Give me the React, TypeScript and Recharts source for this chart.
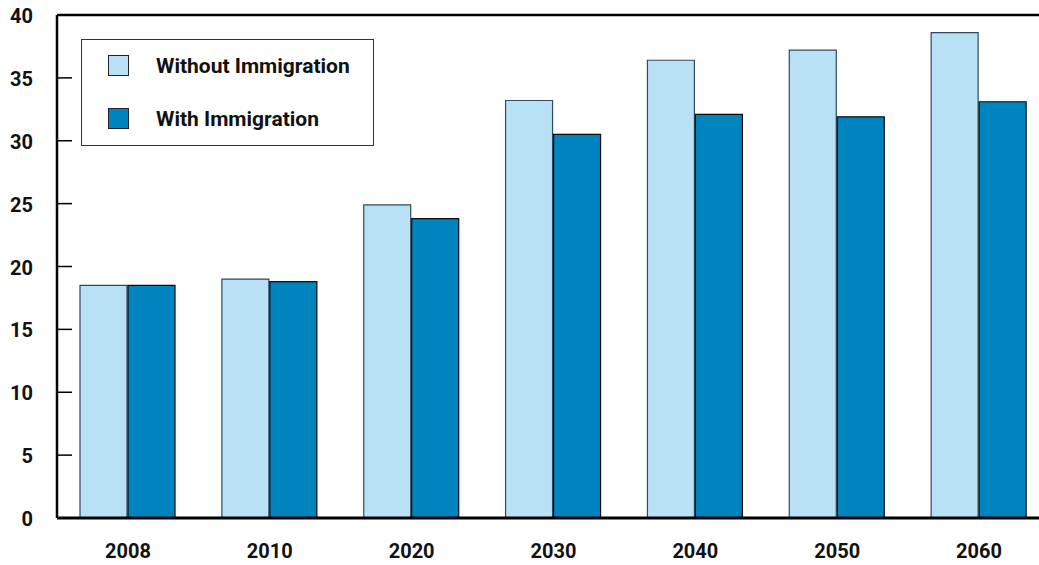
import React from "react";
import { BarChart, Bar, XAxis, YAxis, ReferenceLine } from "recharts";

const years = ["2008", "2010", "2020", "2030", "2040", "2050", "2060"];
const withoutImmigration = [18.5, 19.0, 24.9, 33.2, 36.4, 37.2, 38.6];
const withImmigration = [18.5, 18.8, 23.8, 30.5, 32.1, 31.9, 33.1];
const yTicks = [0, 5, 10, 15, 20, 25, 30, 35, 40];
const seriesNames = ["Without Immigration", "With Immigration"];

const LIGHT = "#b9e1f5";
const DARK = "#0084bf";
const FONT = "Roboto, 'Liberation Sans', sans-serif";

const data = years.map((y, i) => ({
  year: y,
  without: withoutImmigration[i],
  with: withImmigration[i],
}));

const YTick = (props: any) => {
  const { x, y, payload } = props;
  return (
    <g>
      {payload.value !== 0 && payload.value !== 40 && (
        <line x1={x} x2={x + 15} y1={y} y2={y} stroke="#000" strokeWidth={1.5} />
      )}
      <text
        x={x - 24}
        y={y + 1}
        textAnchor="end"
        dominantBaseline="central"
        fontFamily={FONT}
        fontWeight={700}
        fontSize={20}
        fill="#111"
      >
        {payload.value}
      </text>
    </g>
  );
};

const XTick = (props: any) => {
  const { x, y, payload } = props;
  return (
    <text
      x={x}
      y={y}
      textAnchor="middle"
      dominantBaseline="central"
      fontFamily={FONT}
      fontWeight={700}
      fontSize={20}
      fill="#111"
    >
      {payload.value}
    </text>
  );
};

const LegendBox = () => (
  <div
    style={{
      position: "absolute",
      left: 81,
      top: 39,
      width: 293,
      height: 107,
      border: "1px solid #333",
      background: "#fff",
      boxSizing: "border-box",
      fontFamily: FONT,
      fontWeight: 700,
      fontSize: 21,
      color: "#111",
    }}
  >
    {seriesNames.map((n, i) => (
      <div
        key={n}
        style={{
          position: "absolute",
          left: 26,
          top: 15 + i * 53,
          display: "flex",
          alignItems: "center",
          height: 21,
        }}
      >
        <div
          style={{
            width: 21,
            height: 21,
            background: i === 0 ? LIGHT : DARK,
            border: "1px solid #222",
            boxSizing: "border-box",
          }}
        />
        <span style={{ marginLeft: 27, whiteSpace: "nowrap" }}>{n}</span>
      </div>
    ))}
  </div>
);

export default function App() {
  return (
    <div
      style={{
        position: "fixed",
        left: 0,
        top: 0,
        width: 1039,
        height: 565,
        overflow: "hidden",
        background: "#fff",
      }}
    >
      <BarChart
        width={1050}
        height={565}
        data={data}
        margin={{ top: 15, right: 0, left: 0, bottom: 0 }}
        barCategoryGap={23}
        barGap={1}
      >
        <XAxis
          dataKey="year"
          axisLine={{ stroke: "#000", strokeWidth: 3 }}
          tickLine={false}
          tickSize={0}
          tickMargin={33}
          height={47}
          tick={<XTick />}
          interval={0}
        />
        <YAxis
          domain={[0, 40]}
          ticks={yTicks}
          width={57}
          axisLine={{ stroke: "#000", strokeWidth: 2.5 }}
          tickLine={false}
          tickSize={0}
          tickMargin={0}
          tick={<YTick />}
          interval={0}
        />
        <ReferenceLine y={40} stroke="#000" strokeWidth={2.5} />
        <Bar
          dataKey="without"
          name={seriesNames[0]}
          fill={LIGHT}
          stroke="#34495a"
          strokeWidth={1.2}
          isAnimationActive={false}
        />
        <Bar
          dataKey="with"
          name={seriesNames[1]}
          fill={DARK}
          stroke="#0a0a0a"
          strokeWidth={1.2}
          isAnimationActive={false}
        />
      </BarChart>
      <LegendBox />
    </div>
  );
}
